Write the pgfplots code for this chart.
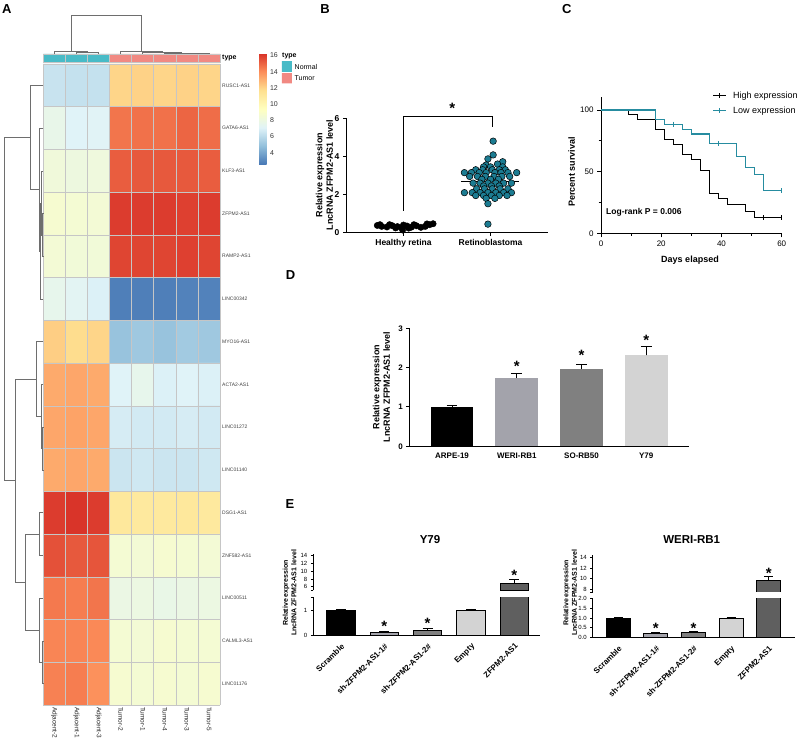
\documentclass[border=0pt]{standalone}
\usepackage{pgfplots}
\pgfplotsset{compat=1.18}
\usepackage{fontspec}
\setmainfont{Liberation Sans}
\definecolor{hmteal}{RGB}{72,187,199}
\definecolor{hmsalmon}{RGB}{241,137,130}
\definecolor{ptteal}{RGB}{28,124,146}
\definecolor{lnteal}{RGB}{38,140,160}
\definecolor{gA}{RGB}{163,163,171}
\definecolor{gB}{RGB}{128,128,128}
\definecolor{gC}{RGB}{211,211,211}
\definecolor{gD}{RGB}{95,95,95}
\definecolor{dendro}{RGB}{110,110,110}
\newcommand{\fs}[1]{\fontsize{#1}{#1}\selectfont}
\pgfplotsset{
  every axis/.append style={/pgf/number format/assume math mode=true, scale only axis, anchor=south west},
  hmcmap/.style={colormap={rdylbu}{rgb255=(69,117,180) rgb255=(145,191,219) rgb255=(224,243,248) rgb255=(255,255,191) rgb255=(254,224,144) rgb255=(252,141,89) rgb255=(215,48,39)}, point meta min=2.5, point meta max=16.3},
  gp/.style={axis x line=bottom, axis y line=left, axis line style={-, line width=1pt}, tick align=outside, tick style={black, line width=1pt}, major tick length=3pt},
  dg/.style={dendro, line width=0.6pt},
  eb/.style={error bars/y dir=plus, error bars/y explicit, error bars/error bar style={line width=0.9pt, black}, error bars/error mark options={rotate=90, mark size=#1, line width=0.9pt, black}},
}
\tikzset{star/.style={anchor=base, font=\bfseries\fs{15}, inner sep=0pt}}
\begin{document}
\begin{tikzpicture}[x=1pt,y=1pt]
\useasboundingbox (0,0) rectangle (800,743);

% panel letters
\node[font=\bfseries\fs{13}] at (6.7,733.5) {A};
\node[font=\bfseries\fs{13}] at (325,733.5) {B};
\node[font=\bfseries\fs{13}] at (566.7,733.8) {C};
\node[font=\bfseries\fs{13}] at (290.5,468) {D};
\node[font=\bfseries\fs{13}] at (290,239) {E};

% ================= Panel A heatmap =================
\begin{axis}[at={(43.3pt,38pt)}, width=176.7pt, height=641pt, hmcmap,
  xmin=-0.5, xmax=7.5, ymin=-0.5, ymax=14.5, y dir=reverse, axis lines=none, clip=false]
\addplot[matrix plot*, mesh/cols=8, point meta=explicit] coordinates {
(0,0) [6.4] (1,0) [6.3] (2,0) [6.3] (3,0) [12.0] (4,0) [12.1] (5,0) [12.0] (6,0) [12.1] (7,0) [12.0]
(0,1) [7.7] (1,1) [7.1] (2,1) [7.2] (3,1) [14.6] (4,1) [14.7] (5,1) [14.7] (6,1) [15.0] (7,1) [14.8]
(0,2) [8.3] (1,2) [8.1] (2,2) [8.2] (3,2) [15.2] (4,2) [15.3] (5,2) [15.3] (6,2) [15.3] (7,2) [15.2]
(0,3) [8.7] (1,3) [8.6] (2,3) [8.5] (3,3) [16.0] (4,3) [16.0] (5,3) [16.0] (6,3) [15.9] (7,3) [16.0]
(0,4) [8.5] (1,4) [8.4] (2,4) [8.4] (3,4) [15.8] (4,4) [15.8] (5,4) [15.8] (6,4) [15.9] (7,4) [15.8]
(0,5) [7.6] (1,5) [7.3] (2,5) [7.0] (3,5) [2.8] (4,5) [2.8] (5,5) [2.8] (6,5) [2.9] (7,5) [2.9]
(0,6) [12.2] (1,6) [11.8] (2,6) [12.0] (3,6) [5.0] (4,6) [5.2] (5,6) [5.0] (6,6) [5.3] (7,6) [5.2]
(0,7) [13.2] (1,7) [13.3] (2,7) [13.2] (3,7) [7.1] (4,7) [7.6] (5,7) [7.0] (6,7) [7.1] (7,7) [7.0]
(0,8) [13.3] (1,8) [13.4] (2,8) [13.3] (3,8) [6.8] (4,8) [6.7] (5,8) [6.7] (6,8) [6.8] (7,8) [6.7]
(0,9) [13.2] (1,9) [13.3] (2,9) [13.2] (3,9) [6.5] (4,9) [6.6] (5,9) [6.5] (6,9) [6.5] (7,9) [6.6]
(0,10) [16.0] (1,10) [16.2] (2,10) [16.0] (3,10) [11.1] (4,10) [11.0] (5,10) [11.0] (6,10) [11.1] (7,10) [11.0]
(0,11) [15.5] (1,11) [15.3] (2,11) [15.4] (3,11) [8.6] (4,11) [8.5] (5,11) [8.7] (6,11) [8.6] (7,11) [8.5]
(0,12) [14.5] (1,12) [14.4] (2,12) [14.6] (3,12) [7.9] (4,12) [8.0] (5,12) [7.8] (6,12) [7.9] (7,12) [8.0]
(0,13) [14.2] (1,13) [14.2] (2,13) [14.1] (3,13) [8.6] (4,13) [8.5] (5,13) [8.7] (6,13) [8.6] (7,13) [8.6]
(0,14) [14.3] (1,14) [14.4] (2,14) [13.9] (3,14) [8.7] (4,14) [8.6] (5,14) [8.7] (6,14) [8.6] (7,14) [8.7]
};
\pgfplotsinvokeforeach{-0.5,0.5,1.5,2.5,3.5,4.5,5.5,6.5,7.5}{\addplot[gray!45, line width=0.5pt] coordinates {(#1,-0.5) (#1,14.5)};}
\pgfplotsinvokeforeach{-0.5,0.5,1.5,2.5,3.5,4.5,5.5,6.5,7.5,8.5,9.5,10.5,11.5,12.5,13.5,14.5}{\addplot[gray!45, line width=0.5pt] coordinates {(-0.5,#1) (7.5,#1)};}
% type bar
\addplot[fill=hmteal, draw=gray!45, line width=0.5pt] coordinates {(-0.5,-0.734) (0.5,-0.734) (0.5,-0.547) (-0.5,-0.547) (-0.5,-0.734)};
\addplot[fill=hmteal, draw=gray!45, line width=0.5pt] coordinates {(0.5,-0.734) (1.5,-0.734) (1.5,-0.547) (0.5,-0.547) (0.5,-0.734)};
\addplot[fill=hmteal, draw=gray!45, line width=0.5pt] coordinates {(1.5,-0.734) (2.5,-0.734) (2.5,-0.547) (1.5,-0.547) (1.5,-0.734)};
\addplot[fill=hmsalmon, draw=gray!45, line width=0.5pt] coordinates {(2.5,-0.734) (3.5,-0.734) (3.5,-0.547) (2.5,-0.547) (2.5,-0.734)};
\addplot[fill=hmsalmon, draw=gray!45, line width=0.5pt] coordinates {(3.5,-0.734) (4.5,-0.734) (4.5,-0.547) (3.5,-0.547) (3.5,-0.734)};
\addplot[fill=hmsalmon, draw=gray!45, line width=0.5pt] coordinates {(4.5,-0.734) (5.5,-0.734) (5.5,-0.547) (4.5,-0.547) (4.5,-0.734)};
\addplot[fill=hmsalmon, draw=gray!45, line width=0.5pt] coordinates {(5.5,-0.734) (6.5,-0.734) (6.5,-0.547) (5.5,-0.547) (5.5,-0.734)};
\addplot[fill=hmsalmon, draw=gray!45, line width=0.5pt] coordinates {(6.5,-0.734) (7.5,-0.734) (7.5,-0.547) (6.5,-0.547) (6.5,-0.734)};
% column dendrogram
\addplot[dg] coordinates {(1,-0.734) (1,-0.774) (2,-0.774) (2,-0.734)};
\addplot[dg] coordinates {(0,-0.734) (0,-0.804) (1.5,-0.804) (1.5,-0.774)};
\addplot[dg] coordinates {(6,-0.734) (6,-0.746) (7,-0.746) (7,-0.734)};
\addplot[dg] coordinates {(5,-0.734) (5,-0.757) (6.5,-0.757) (6.5,-0.746)};
\addplot[dg] coordinates {(4,-0.734) (4,-0.769) (5.75,-0.769) (5.75,-0.757)};
\addplot[dg] coordinates {(3,-0.734) (3,-0.788) (4.875,-0.788) (4.875,-0.769)};
\addplot[dg] coordinates {(0.75,-0.804) (0.75,-1.647) (3.9375,-1.647) (3.9375,-0.788)};
% row dendrogram
\addplot[dg] coordinates {(-0.5,3) (-0.536,3) (-0.536,4) (-0.5,4)};
\addplot[dg] coordinates {(-0.5,2) (-0.581,2) (-0.581,3.5) (-0.536,3.5)};
\addplot[dg] coordinates {(-0.581,2.75) (-0.627,2.75) (-0.627,5) (-0.5,5)};
\addplot[dg] coordinates {(-0.5,1) (-0.695,1) (-0.695,3.875) (-0.627,3.875)};
\addplot[dg] coordinates {(-0.5,0) (-1.070,0) (-1.070,2.4375) (-0.695,2.4375)};
\addplot[dg] coordinates {(-0.5,8) (-0.536,8) (-0.536,9) (-0.5,9)};
\addplot[dg] coordinates {(-0.5,7) (-0.604,7) (-0.604,8.5) (-0.536,8.5)};
\addplot[dg] coordinates {(-0.5,6) (-0.830,6) (-0.830,7.75) (-0.604,7.75)};
\addplot[dg] coordinates {(-0.5,10) (-0.695,10) (-0.695,11) (-0.5,11)};
\addplot[dg] coordinates {(-0.5,13) (-0.536,13) (-0.536,14) (-0.5,14)};
\addplot[dg] coordinates {(-0.5,12) (-0.672,12) (-0.672,13.5) (-0.536,13.5)};
\addplot[dg] coordinates {(-0.695,10.5) (-1.328,10.5) (-1.328,12.75) (-0.672,12.75)};
\addplot[dg] coordinates {(-0.830,6.875) (-1.781,6.875) (-1.781,11.625) (-1.328,11.625)};
\addplot[dg] coordinates {(-1.070,1.21875) (-2.265,1.21875) (-2.265,9.25) (-1.781,9.25)};
% legend swatches
\addplot[fill=hmteal, draw=none] coordinates {(10.3,-0.570) (10.75,-0.570) (10.75,-0.313) (10.3,-0.313) (10.3,-0.570)};
\addplot[fill=hmsalmon, draw=none] coordinates {(10.3,-0.289) (10.75,-0.289) (10.75,-0.044) (10.3,-0.044) (10.3,-0.289)};
\end{axis}

% colorbar
\begin{axis}[at={(250.6pt,578pt)}, width=7.4pt, height=112pt, hide axis, hmcmap,
  xmin=0, xmax=1, ymin=0, ymax=1, colorbar,
  colorbar style={at={(parent axis.south west)}, anchor=south west, width=7.4pt, height=112pt,
    ytick={4,6,8,10,12,14,16}, yticklabel style={font=\fs{7}, text=black!80},
    axis line style={draw=none}, major tick length=0pt}]
\addplot[draw=none] coordinates {(0,0)};
\end{axis}

\foreach \n [count=\i from 0] in {RUSC1-AS1,GATA6-AS1,KLF3-AS1,ZFPM2-AS1,RAMP2-AS1,LINC00342,MYO16-AS1,ACTA2-AS1,LINC01272,LINC01140,DSG1-AS1,ZNF582-AS1,LINC00511,CALML3-AS1,LINC01176}
  \node[anchor=west, font=\fs{5}, text=black!75, inner sep=0pt] at (222, {679-42.73*(\i+0.5)}) {\n};
\foreach \n [count=\i from 0] in {Adjacent-2,Adjacent-1,Adjacent-3,Tumor-2,Tumor-1,Tumor-4,Tumor-3,Tumor-5}
  \node[rotate=-90, anchor=west, font=\fs{6.5}, text=black!85, inner sep=0pt] at ({43.3+22.1*(\i+0.5)}, 36) {\n};
\node[anchor=west, font=\bfseries\fs{7}, inner sep=0pt] at (222,685) {type};
\node[anchor=west, font=\bfseries\fs{7}, inner sep=0pt] at (282,687) {type};
\node[anchor=west, font=\fs{7}, inner sep=0pt] at (294.5,676) {Normal};
\node[anchor=west, font=\fs{7}, inner sep=0pt] at (294.5,664.5) {Tumor};

% ================= Panel B =================
\begin{axis}[gp, at={(346pt,510.3pt)}, width=202pt, height=114.4pt,
  xmin=-0.66, xmax=1.66, ymin=0, ymax=6, clip=false,
  xtick={0,1}, xticklabels={Healthy retina, Retinoblastoma}, ytick={0,2,4,6},
  ticklabel style={font=\bfseries\fs{8.5}}]
\addplot[only marks, mark=*, mark size=3.2pt, mark options={fill=black, draw=black}] coordinates {
(-0.30,0.38) (-0.25,0.33) (-0.19,0.30) (-0.13,0.37) (-0.07,0.32) (-0.02,0.27) (0.04,0.35) (0.09,0.29) (0.15,0.36) (0.20,0.28) (0.25,0.33) (0.30,0.42) (0.34,0.47) (-0.27,0.42) (-0.16,0.42) (0.0,0.40) (0.12,0.42) (-0.09,0.25) (0.06,0.24) (0.27,0.46) (-0.01,0.14)};
\addplot[only marks, mark=*, mark size=3.3pt, mark options={fill=ptteal, draw=black, line width=0.5pt}] coordinates {
(1.03,4.8) (1.03,4.08) (0.97,3.87) (1.14,3.72) (1.08,3.6) (0.95,3.55)
(0.92,3.45) (1.0,3.45) (1.14,3.45)
(0.83,3.3) (0.91,3.3) (1.02,3.3) (1.1,3.3) (1.17,3.3)
(0.7,3.15) (0.78,3.15) (0.87,3.15) (0.95,3.15) (1.05,3.15) (1.12,3.15) (1.2,3.15) (1.3,3.15)
(0.76,2.95) (0.85,2.95) (0.94,2.95) (1.04,2.95) (1.13,2.95) (1.22,2.95)
(0.9,2.8) (1.0,2.8) (1.09,2.8)
(0.8,2.6) (0.88,2.6) (0.97,2.6) (1.06,2.6) (1.15,2.6) (1.24,2.6)
(0.92,2.45) (1.01,2.45) (1.1,2.45)
(0.84,2.3) (0.93,2.3) (1.02,2.3) (1.11,2.3) (1.2,2.3)
(0.7,2.1) (0.79,2.1) (0.88,2.1) (0.97,2.1) (1.06,2.1) (1.15,2.1) (1.24,2.1)
(0.83,1.95) (0.92,1.95) (1.01,1.95) (1.1,1.95) (1.19,1.95)
(0.95,1.8) (1.05,1.8) (0.97,1.52) (0.97,0.45)};
\addplot[black, line width=1pt] coordinates {(-0.33,0.35) (0.34,0.35)};
\addplot[black, line width=1pt] coordinates {(0.66,2.7) (1.33,2.7)};
\addplot[black, line width=1pt] coordinates {(0,1.15) (0,6.12) (1.02,6.12) (1.02,5.52)};
\node[star] at (axis cs:0.56,6.26) {*};
\end{axis}
\node[rotate=90, align=center, font=\bfseries\fontsize{9}{10.5}\selectfont] at (324.5,568) {Relative expression\\LncRNA ZFPM2-AS1 level};

% ================= Panel C =================
\begin{axis}[gp, at={(601pt,509.7pt)}, width=180.7pt, height=136.6pt,
  xmin=0, xmax=60, ymin=0, ymax=110.8, clip=false,
  xtick={0,20,40,60}, minor xtick={10,30,50}, ytick={0,50,100}, minor ytick={25,75},
  major tick length=4pt, minor tick length=2.5pt, minor tick style={line width=1pt},
  ticklabel style={font=\fs{8}}]
\addplot[const plot, black, line width=1.1pt] coordinates {(0,100) (9,96) (12,92) (18,84) (21,76) (24,72) (27,64) (30,60) (33,51) (36,32) (39,28) (42,23) (48,18) (51,12.5) (60,12.5)};
\addplot[const plot, lnteal, line width=1.1pt] coordinates {(0,100) (18,92.5) (21,88.5) (27,84.5) (30,80.5) (36,72.5) (45,62.5) (48,53) (51,48) (54,34.5) (60,34.5)};
\addplot[only marks, mark=|, mark size=2.5pt, black, line width=1pt] coordinates {(54,12.5) (60,12.5)};
\addplot[only marks, mark=|, mark size=2.5pt, lnteal, line width=1pt] coordinates {(24,88.5) (39,72.5) (60,34.5)};
\addplot[black, line width=1pt, mark=|, mark size=2.5pt, mark indices={2}] coordinates {(37.2,111.4) (39.35,111.4) (41.5,111.4)};
\addplot[lnteal, line width=1pt, mark=|, mark size=2.5pt, mark indices={2}] coordinates {(37.2,99.4) (39.35,99.4) (41.5,99.4)};
\node[anchor=west, font=\fs{9}, inner sep=0pt] at (axis cs:43.8,111.4) {High expression};
\node[anchor=west, font=\fs{9}, inner sep=0pt] at (axis cs:43.8,99.4) {Low expression};
\node[anchor=west, font=\bfseries\fs{8.5}, inner sep=0pt] at (axis cs:1.66,17) {Log-rank P = 0.006};
\end{axis}
\node[rotate=90, font=\bfseries\fs{9}] at (571.7,571) {Percent survival};
\node[font=\bfseries\fs{9}] at (690,483) {Days elapsed};

% ================= Panel D =================
\begin{axis}[gp, at={(409.3pt,296.7pt)}, width=279.7pt, height=118pt,
  xmin=-0.66, xmax=3.66, ymin=0, ymax=3, clip=false,
  xtick={0,1,2,3}, xticklabels={ARPE-19, WERI-RB1, SO-RB50, Y79}, xtick style={draw=none},
  ytick={0,1,2,3}, ticklabel style={font=\bfseries\fs{8}}]
\addplot[ybar, bar width=42.7pt, fill=black, draw=none, eb=5.3pt] coordinates {(0,1.0) +- (0,0.03)};
\addplot[ybar, bar width=42.7pt, fill=gA, draw=none, eb=5.3pt] coordinates {(1,1.73) +- (0,0.13)};
\addplot[ybar, bar width=42.7pt, fill=gB, draw=none, eb=5.3pt] coordinates {(2,1.96) +- (0,0.13)};
\addplot[ybar, bar width=42.7pt, fill=gC, draw=none, eb=5.3pt] coordinates {(3,2.31) +- (0,0.22)};
\node[star] at (axis cs:1,1.91) {*};
\node[star] at (axis cs:2,2.17) {*};
\node[star] at (axis cs:3,2.57) {*};
\end{axis}
\node[rotate=90, align=center, font=\bfseries\fontsize{9}{10.5}\selectfont] at (381.3,356) {Relative expression\\LncRNA ZFPM2-AS1 level};

% ================= Panel E left (Y79) =================
\begin{axis}[gp, at={(313.3pt,107.7pt)}, width=226.7pt, height=37.95pt,
  xmin=-0.634, xmax=4.59, ymin=0, ymax=1.5, clip mode=individual,
  axis line style={-, line width=0.9pt}, tick style={black, line width=0.9pt}, major tick length=2.5pt,
  xtick={0,1,2,3,4}, xticklabels={Scramble, sh-ZFPM2-AS1-1\#, sh-ZFPM2-AS1-2\#, Empty, ZFPM2-AS1}, xtick style={draw=none},
  xticklabel style={rotate=45, anchor=north east, font=\bfseries\fs{8}},
  ytick={0,1}, extra y ticks={1.5}, extra y tick labels={}, yticklabel style={font=\fs{6}}]
\addplot[ybar, bar width=28.3pt, fill=black, draw=black, line width=0.8pt, eb=5pt] coordinates {(0,1.0) +- (0,0.03)};
\addplot[ybar, bar width=28.3pt, fill=gA, draw=black, line width=0.8pt, eb=5pt] coordinates {(1,0.1) +- (0,0.04)};
\addplot[ybar, bar width=28.3pt, fill=gB, draw=black, line width=0.8pt, eb=5pt] coordinates {(2,0.21) +- (0,0.05)};
\addplot[ybar, bar width=28.3pt, fill=gC, draw=black, line width=0.8pt, eb=5pt] coordinates {(3,0.97) +- (0,0.07)};
\addplot[ybar, bar width=28.3pt, fill=gD, draw=black, line width=0.8pt, eb=5pt] coordinates {(4,6.9) +- (0,1.0)};
\node[star] at (axis cs:1,0.16) {*};
\node[star] at (axis cs:2,0.28) {*};
\end{axis}
\begin{axis}[gp, at={(313.3pt,152.5pt)}, width=226.7pt, height=36.5pt,
  xmin=-0.634, xmax=4.59, ymin=5, ymax=14.5, clip mode=individual,
  axis x line=none, axis line style={-, line width=0.9pt}, tick style={black, line width=0.9pt}, major tick length=2.5pt,
  xtick=\empty, ytick={6,8,10,12,14}, extra y ticks={5}, extra y tick labels={}, yticklabel style={font=\fs{6}}]
\addplot[ybar, bar width=28.3pt, fill=gD, draw=black, line width=0.8pt, eb=5pt] coordinates {(4,6.9) +- (0,1.0)};
\node[star] at (axis cs:4,7.72) {*};
\end{axis}
\node[font=\bfseries\fs{11.5}] at (430,203.7) {Y79};
\node[rotate=90, align=center, font=\bfseries\fontsize{7}{8.5}\selectfont] at (289.5,150) {Relative expression\\LncRNA ZFPM2-AS1 level};

% ================= Panel E right (WERI-RB1) =================
\begin{axis}[gp, at={(592.7pt,105.3pt)}, width=202.3pt, height=39.4pt,
  xmin=-0.68, xmax=4.7, ymin=0, ymax=2, clip mode=individual,
  axis line style={-, line width=0.9pt}, tick style={black, line width=0.9pt}, major tick length=2.5pt,
  xtick={0,1,2,3,4}, xticklabels={Scramble, sh-ZFPM2-AS1-1\#, sh-ZFPM2-AS1-2\#, Empty, ZFPM2-AS1}, xtick style={draw=none},
  xticklabel style={rotate=45, anchor=north east, font=\bfseries\fs{8}},
  ytick={0,0.5,1,1.5,2}, yticklabel style={font=\fs{6}, /pgf/number format/fixed, /pgf/number format/fixed zerofill, /pgf/number format/precision=1}]
\addplot[ybar, bar width=24pt, fill=black, draw=black, line width=0.8pt, eb=4.5pt] coordinates {(0,1.0) +- (0,0.04)};
\addplot[ybar, bar width=24pt, fill=gA, draw=black, line width=0.8pt, eb=4.5pt] coordinates {(1,0.22) +- (0,0.06)};
\addplot[ybar, bar width=24pt, fill=gB, draw=black, line width=0.8pt, eb=4.5pt] coordinates {(2,0.25) +- (0,0.07)};
\addplot[ybar, bar width=24pt, fill=gC, draw=black, line width=0.8pt, eb=4.5pt] coordinates {(3,1.0) +- (0,0.05)};
\addplot[ybar, bar width=24pt, fill=gD, draw=black, line width=0.8pt, eb=4.5pt] coordinates {(4,9.6) +- (0,0.9)};
\node[star] at (axis cs:1,0.22) {*};
\node[star] at (axis cs:2,0.22) {*};
\end{axis}
\begin{axis}[gp, at={(592.7pt,151pt)}, width=202.3pt, height=37.3pt,
  xmin=-0.68, xmax=4.7, ymin=7.5, ymax=14.5, clip mode=individual,
  axis x line=none, axis line style={-, line width=0.9pt}, tick style={black, line width=0.9pt}, major tick length=2.5pt,
  xtick=\empty, ytick={8,10,12,14}, extra y ticks={7.5}, extra y tick labels={}, yticklabel style={font=\fs{6}}]
\addplot[ybar, bar width=24pt, fill=gD, draw=black, line width=0.8pt, eb=4.5pt] coordinates {(4,9.6) +- (0,0.9)};
\node[star] at (axis cs:4,10.05) {*};
\end{axis}
\node[font=\bfseries\fs{11.5}] at (691.7,203.7) {WERI-RB1};
\node[rotate=90, align=center, font=\bfseries\fontsize{7}{8.5}\selectfont] at (570,150) {Relative expression\\LncRNA ZFPM2-AS1 level};

\end{tikzpicture}
\end{document}
